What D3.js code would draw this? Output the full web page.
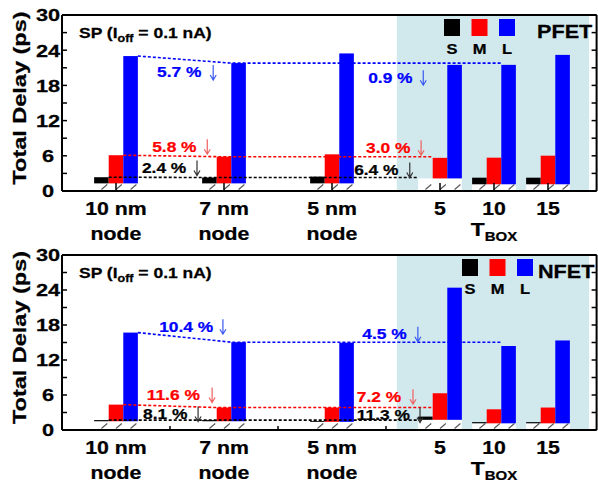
<!DOCTYPE html>
<html><head><meta charset="utf-8">
<script src="https://cdn.jsdelivr.net/npm/d3@7"></script>
<style>body{margin:0;background:#fff}</style></head>
<body><svg id="c" width="598" height="483"></svg>
<script>
// ---------------- data ----------------
const categories = ["10 nm", "7 nm", "5 nm", "5", "10", "15"];
const categorySub = ["node", "node", "node", "", "", ""];
const categoryPos = [1, 3, 5, 7, 8, 9];
const seriesNames = ["S", "M", "L"];

const pfetBase = [1.3, 1.3, 1.3, 2.15, 1.15, 1.15];
const pfetS = [2.35, 2.3, 2.45, 2.15, 2.27, 2.27];
const pfetM = [6.1, 5.85, 6.25, 5.65, 5.68, 6.02];
const pfetL = [23.0, 21.8, 23.45, 21.5, 21.5, 23.2];

const nfetBase = [1.5, 1.5, 1.4, 1.75, 1.15, 1.15];
const nfetS = [1.7, 1.7, 1.55, 2.3, 1.35, 1.35];
const nfetM = [4.35, 3.85, 3.85, 6.3, 3.55, 3.85];
const nfetL = [16.7, 15.05, 14.97, 24.4, 14.4, 15.35];

const yTicks = [0, 6, 12, 18, 24, 30];
const yMinor = [3, 9, 15, 21, 27];

// reduction annotations: text, series, text x (category units), baseline value, arrow x
const pfetNotes = [
  {text: "5.7 %", s: "L", x: 1.76, y: 19.35, ax: 2.80},
  {text: "5.8 %", s: "M", x: 1.67, y: 6.7, ax: 2.69},
  {text: "2.4 %", s: "S", x: 1.48, y: 3.07, ax: 2.50},
  {text: "0.9 %", s: "L", x: 5.67, y: 18.46, ax: 6.69},
  {text: "3.0 %", s: "M", x: 5.63, y: 6.53, ax: 6.65},
  {text: "6.4 %", s: "S", x: 5.41, y: 2.73, ax: 6.44}
];
const nfetNotes = [
  {text: "10.4 %", s: "L", x: 1.80, y: 16.85, ax: 2.98},
  {text: "11.6 %", s: "M", x: 1.57, y: 5.14, ax: 2.78},
  {text: "8.1 %", s: "S", x: 1.50, y: 1.89, ax: 2.52},
  {text: "4.5 %", s: "L", x: 5.56, y: 15.55, ax: 6.59},
  {text: "7.2 %", s: "M", x: 5.46, y: 4.85, ax: 6.50},
  {text: "11.3 %", s: "S", x: 5.46, y: 1.71, ax: 6.63}
];
// trend lines: from group 0 to group 1, then flat to target group
const trendTargets = {S: 3, M: 3, L: 4};

// ---------------- styles ----------------
const colors = {S: "#000000", M: "#ff0000", L: "#0000ff"};
const arrowColors = {S: "#333333", M: "#f06060", L: "#3a5af0"};
const shadeColor = "#d1e8ed";
const FONT = "'Liberation Sans', Arial, Helvetica, sans-serif";

const svg = d3.select("#c");
const x = d3.scaleLinear().domain([0, 10]).range([62, 602]);
const barW = x(0.27) - x(0);
const xRight = x(9.9);

function label(g, px, py, str, o = {}) {
  const t = g.append("text")
    .attr("transform", `translate(${px},${py}) rotate(${o.rot || 0}) scale(${o.sx || 1.2},1)`)
    .attr("text-anchor", o.anchor || "start")
    .attr("font-family", o.family || FONT)
    .attr("font-weight", o.weight || "bold")
    .attr("font-size", o.size || 16)
    .attr("fill", o.fill || "#000")
    .attr("stroke", o.fill || "#000")
    .attr("stroke-width", 0.25);
  if (str !== null) t.text(str);
  return t;
}

const panels = [
  {name: "PFET", top: 15, bottom: 191, base: pfetBase, S: pfetS, M: pfetM, L: pfetL, notes: pfetNotes,
   xTicks: categoryPos, tickLen: 8, legendX: 444, nameX: 537},
  {name: "NFET", top: 255, bottom: 430, base: nfetBase, S: nfetS, M: nfetM, L: nfetL, notes: nfetNotes,
   xTicks: [2, 4, 6], tickLen: 4, legendX: 462, nameX: 538}
];

panels.forEach(p => {
  const g = svg.append("g");
  const y = d3.scaleLinear().domain([0, 30]).range([p.bottom, p.top]);
  const barX = (gi, si) => x(categoryPos[gi]) + (si - 1.5) * barW;

  // shaded TBOX region
  g.append("rect").attr("x", x(6.2)).attr("y", p.top)
    .attr("width", x(9.76) - x(6.2)).attr("height", p.bottom - p.top)
    .attr("fill", shadeColor);

  // hatched bases
  categories.forEach((c, gi) => {
    g.append("rect").attr("x", barX(gi, 0)).attr("y", y(p.base[gi]))
      .attr("width", barW * 3).attr("height", y(0) - y(p.base[gi]))
      .attr("fill", "#fff");
    seriesNames.forEach((s, si) => {
      const x0 = barX(gi, si);
      g.append("line")
        .attr("x1", x0 + 0.5 * barW).attr("y1", y(0) - 1.5)
        .attr("x2", x0 + 0.9 * barW).attr("y2", y(0) - 6.5)
        .attr("stroke", "#555").attr("stroke-width", 1.1);
    });
  });

  // bars
  seriesNames.forEach((s, si) => {
    g.selectAll(null).data(p[s]).enter().append("rect")
      .attr("x", (d, gi) => barX(gi, si))
      .attr("y", d => y(d))
      .attr("width", barW)
      .attr("height", (d, gi) => Math.max(0, y(p.base[gi]) - y(d)))
      .attr("fill", colors[s]);
  });

  // trend dashed lines
  seriesNames.forEach((s, si) => {
    const v = p[s];
    const tgt = trendTargets[s];
    const pts = [[barX(0, si) + barW, y(v[0])], [barX(1, si), y(v[1])], [barX(tgt, si), y(v[1])]];
    g.append("path").attr("d", d3.line()(pts))
      .attr("fill", "none").attr("stroke", colors[s])
      .attr("stroke-width", 1.6).attr("stroke-dasharray", "3,2");
  });

  // frame and axes
  const ax = g.append("g").attr("stroke", "#000");
  ax.append("line").attr("x1", x(0)).attr("x2", xRight).attr("y1", p.top).attr("y2", p.top).attr("stroke-width", 2);
  ax.append("line").attr("x1", x(0)).attr("x2", xRight).attr("y1", y(0)).attr("y2", y(0)).attr("stroke-width", 2);
  ax.append("line").attr("x1", x(0)).attr("x2", x(0)).attr("y1", p.top).attr("y2", y(0)).attr("stroke-width", 2);
  ax.append("line").attr("x1", xRight).attr("x2", xRight).attr("y1", p.top).attr("y2", y(0)).attr("stroke-width", 2);
  yTicks.concat(yMinor).forEach(t => {
    ax.append("line").attr("x1", x(0)).attr("x2", x(0) + 5).attr("y1", y(t)).attr("y2", y(t)).attr("stroke-width", 1.5);
    ax.append("line").attr("x1", xRight).attr("x2", xRight - 5).attr("y1", y(t)).attr("y2", y(t)).attr("stroke-width", 1.5);
  });
  p.xTicks.forEach(t => {
    ax.append("line").attr("x1", x(t)).attr("x2", x(t)).attr("y1", y(0)).attr("y2", y(0) - p.tickLen).attr("stroke-width", 1.5);
  });

  // y tick labels
  yTicks.forEach(t => label(g, 48, y(t) + 6.3, String(t), {size: 17, anchor: "middle", sx: 1.28}));
  // y title
  label(g, 26, (p.top + p.bottom) / 2 - 5, "Total Delay (ps)", {size: 18.5, anchor: "middle", rot: -90, sx: 1.27});

  // x labels
  categories.forEach((c, gi) => {
    label(g, x(categoryPos[gi]), p.bottom + 24, c, {size: 19, anchor: "middle", sx: 1.12});
    if (categorySub[gi]) label(g, x(categoryPos[gi]), p.bottom + 49, categorySub[gi], {size: 19, anchor: "middle", sx: 1.12});
  });
  const tb = label(g, x(8), p.bottom + 45, null, {size: 19, anchor: "middle", sx: 1.2});
  tb.append("tspan").text("T");
  tb.append("tspan").attr("font-size", 12.5).attr("dy", 5).text("BOX");

  // SP label
  const sp = label(g, 79, p.top + 23, null, {size: 14, sx: 1.25});
  sp.append("tspan").text("SP (I");
  sp.append("tspan").attr("font-size", 10).attr("dy", 3.5).text("off");
  sp.append("tspan").attr("dy", -3.5).text(" = 0.1 nA)");

  // legend
  seriesNames.forEach((s, si) => {
    const lx = p.legendX + si * 27.5;
    g.append("rect").attr("x", lx).attr("y", p.top + 4).attr("width", 16).attr("height", 17).attr("fill", colors[s]);
    label(g, lx + 8, p.top + 38.5, s, {size: 15, anchor: "middle", sx: 1.1});
  });
  label(g, p.nameX, p.top + 23, p.name, {size: 18.5, sx: 1.17});

  // annotations
  p.notes.forEach(n => {
    label(g, x(n.x), y(n.y), n.text, {size: 15.5, fill: colors[n.s], sx: 1.12});
    const axp = x(n.ax), yb = y(n.y) + 2.5, yt = yb - 15;
    g.append("path")
      .attr("d", `M${axp},${yt}L${axp},${yb}M${axp - 3},${yb - 5}L${axp},${yb}L${axp + 3},${yb - 5}`)
      .attr("fill", "none").attr("stroke", arrowColors[n.s]).attr("stroke-width", 1.2);
  });
});
</script></body></html>
